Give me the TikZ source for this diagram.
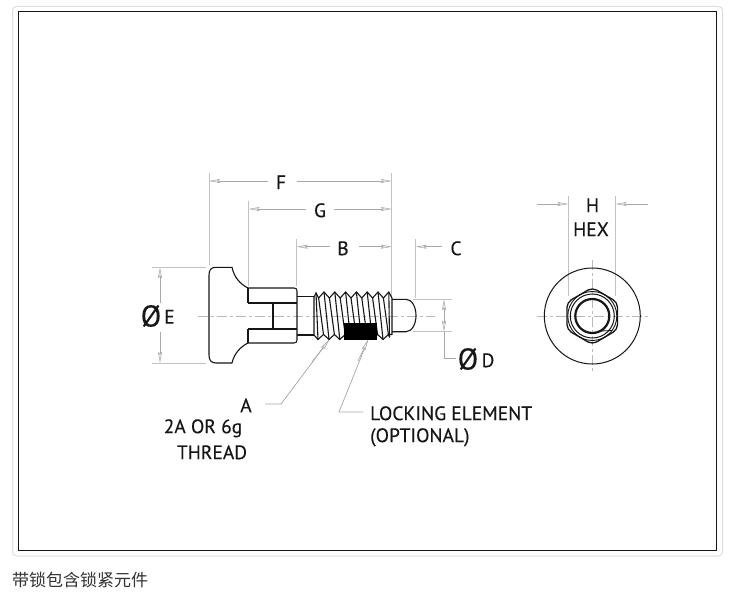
\documentclass[tikz,border=0pt]{standalone}
\usepackage{fontspec}
\setmainfont{PT Sans}[FakeBold=0.25,BoldFont=PT Sans]
\newfontfamily\labfont{PT Sans}[FakeBold=0.25,AutoFakeBold=0.25]
\newfontfamily\cjkfont{Noto Sans CJK SC}
\usetikzlibrary{arrows.meta}
\definecolor{dimgray}{HTML}{A8A8A8}
\definecolor{inkblack}{HTML}{161616}
\tikzset{
  x=1pt,y=-1pt,
  part/.style={draw=inkblack,line width=1.1pt,line join=round},
  thread line/.style={draw=inkblack,line width=1.1pt,line cap=round},
  thick part/.style={draw=inkblack,line width=2pt},
  extline/.style={draw=dimgray!70,line width=0.8pt},
  dimline/.style={draw=dimgray,line width=0.7pt,-{Stealth[length=11pt,width=4pt,inset=2pt,fill=black!8,line width=.5pt]}},
  leader/.style={draw=dimgray,line width=0.7pt},
  centre/.style={draw=dimgray!80,line width=0.7pt,dash pattern=on 10pt off 3pt on 3pt off 3pt},
  lab/.style={text=inkblack,inner sep=0pt,font=\labfont\bfseries\fontsize{19.5}{22}\selectfont},
  dia/.style={text=inkblack,inner sep=0pt,font=\labfont\bfseries\fontsize{30}{30}\selectfont},
}
\begin{document}
\begin{tikzpicture}
\useasboundingbox (0,0) rectangle (737,594);
\fill[white] (0,0) rectangle (737,594);
\draw[draw=black!13,line width=1pt,rounded corners=4pt] (12.5,6.5) rectangle (722.5,556);
\draw[draw=inkblack,line width=1pt] (18,12) rectangle (716.5,550.7);

% centre lines
\draw[centre] (198,316) -- (435,316);
\draw[centre] (537,316) -- (648,316);
\draw[centre] (592.3,260) -- (592.3,371);

% extension lines
\draw[extline] (209,173) -- (209,265);
\draw[extline] (248.7,201) -- (248.7,286);
\draw[extline] (296.7,239) -- (296.7,286);
\draw[extline] (391.8,173) -- (391.8,298);
\draw[extline] (415.7,239) -- (415.7,298);
\draw[extline] (152,267) -- (206,267);
\draw[extline] (152,363) -- (206,363);
\draw[extline] (413,299) -- (452,299);
\draw[extline] (413,331) -- (452,331);
\draw[extline] (568.3,196) -- (568.3,296);
\draw[extline] (615.7,196) -- (615.7,296);

% screw head
\draw[part] (232,267.3) -- (216,267.3) .. controls (211,267.3) and (209,270) .. (209,275)
  -- (209,355) .. controls (209,360) and (211,363) .. (216,363) -- (232,363)
  .. controls (234,354) and (240,347) .. (248,343)
  -- (294,343) .. controls (296,343) and (297,342) .. (297,340)
  -- (297,291) .. controls (297,289) and (296,288) .. (294,288)
  -- (248,288) .. controls (240,284) and (234,277) .. (232,267.3) -- cycle;
\draw[part] (248,288) -- (248,303);
\draw[part] (248,329) -- (248,343);
\draw[part] (273,303) -- (273,329);
\draw[part] (273,303) -- (297,303);
\draw[part] (273,329) -- (297,329);
\draw[thick part] (248,302.7) -- (273.5,302.7);
\draw[thick part] (248,328.7) -- (273.5,328.7);

% neck
\draw[part] (297,296.7) -- (314,296.7);
\draw[part] (297,335) -- (314,335);

% thread
\draw[thread line] (314,297) -- (314,335) -- (318,339.5) -- (323.5,334.5);
\draw[thread line] (314,297) -- (316,293) -- (318.6,298);
\draw[thread line] (316,293) -- (318,339.5);
\draw[thread line] (318.6,298) -- (323.5,334.5);
\foreach \i in {0,...,6}{
  \pgfmathsetmacro{\tx}{324+10.8*\i}
  \pgfmathsetmacro{\txa}{\tx-5.4}
  \pgfmathsetmacro{\txb}{\tx+5.4}
  \pgfmathsetmacro{\bx}{\tx+5}
  \pgfmathsetmacro{\bxa}{\bx-5.4}
  \pgfmathsetmacro{\bxb}{\bx+5.4}
  \ifnum\i<6
    \draw[thread line,line join=round] (\txa,298) -- (\tx,292) -- (\txb,298);
    \draw[thread line,line join=round] (\bxa,334.5) -- (\bx,339.5) -- (\bxb,334.5);
    \draw[thread line] (\tx,292) -- (\bx,339.5);
    \draw[thread line] (\txb,298) -- (\bxb,334.5);
  \else
    \draw[thread line,line join=round] (\txa,298) -- (\tx,292) -- (392,298) -- (392,334.5) -- (\bxa,334.5);
    \draw[thread line] (\tx,292) -- (389.5,337);
    \draw[thread line] (389.5,337) -- (\bxa,334.5);
  \fi
}

% pin
\draw[part] (392,299.3) -- (406,299.3) .. controls (412,299.3) and (416,307) .. (416,315.5)
  .. controls (416,324) and (412,331.7) .. (406,331.7) -- (392,331.7);

% locking element
\fill[black] (344,323) rectangle (377,339.5);

% dimension lines
\coordinate (Fl) at (209,181); \coordinate (Fr) at (391.8,181);
\coordinate (Gl) at (248.7,209); \coordinate (Gr) at (391.8,209);
\coordinate (Bl) at (296.7,246.7); \coordinate (Br) at (391.8,246.7);
\node[lab] (F) at (281,182.3) {F};
\node[lab] (G) at (320,210.3) {G};
\node[lab] (B) at (343,248.3) {B};
\node[lab] (C) at (456,248.3) {C};
\draw[dimline] (268,181) -- (Fl);
\draw[dimline] (297,181) -- (Fr);
\draw[dimline] (306,209) -- (Gl);
\draw[dimline] (334,209) -- (Gr);
\draw[dimline] (330,246.7) -- (Bl);
\draw[dimline] (359,246.7) -- (Br);
\draw[dimline] (442,246.7) -- (415.7,246.7);

\node[dia] (phiE) at (151,316) {Ø};
\node[lab] (E) at (169.5,316.8) {E};
\draw[dimline] (160,303) -- (160,267.3);
\draw[dimline] (160,332) -- (160,363);

\node[dia] (phiD) at (468,359) {Ø};
\node[lab] (D) at (488,360.3) {D};
\draw[dimline] (444,316) -- (444,299.3);
\draw[dimline] (444,316) -- (444,331.7);
\draw[leader] (444,331.7) -- (444,358) -- (456,358);

\node[lab] (H) at (592.5,205.3) {H};
\node[lab] (HEX) at (591,229.3) {HEX};
\draw[dimline] (537,204) -- (568.3,204);
\draw[dimline] (648,204) -- (615.7,204);

% leaders
\node[lab] (A) at (246,405.3) {A};
\node[lab] (thr) at (203,428.3) {2A OR 6g};
\node[lab] (thr2) at (212,452.3) {THREAD};
\node[lab,anchor=west] (lock) at (370,413.3) {LOCKING ELEMENT};
\node[lab,anchor=west] (opt) at (370,437.3) {(OPTIONAL)};
\coordinate (Atip) at (329,340);
\coordinate (Ltip) at (368,340);
\draw[leader] (265,404) -- (281,404) -- (Atip);
\draw[dimline] (312,362) -- (Atip);
\draw[leader] (363,412) -- (339,412) -- (Ltip);
\draw[dimline] (358,361) -- (Ltip);

% end view
\node[draw=inkblack,line width=1pt,circle,minimum size=96pt,inner sep=0pt] (flange) at (592.3,316) {};
\draw[part,line width=1.3pt,rounded corners=5pt] (592.3,287.5) -- (617.5,302.3) -- (617.5,329.7) -- (592.3,344.5) -- (567,329.7) -- (567,302.3) -- cycle;
\draw[part,line width=.9pt] (592.3,316) circle (24.5);
\draw[part,line width=1pt] (592.3,316) circle (22);
\draw[part,line width=2.2pt] (592.3,316) circle (17);
\draw[part,line width=.8pt] (612,330.5) -- (601,331);

% caption
\node[anchor=west,inner sep=0pt,text=black!80,font=\cjkfont\fontsize{17}{20}\selectfont] (cap) at (12,580) {带锁包含锁紧元件};
\end{tikzpicture}
\end{document}
